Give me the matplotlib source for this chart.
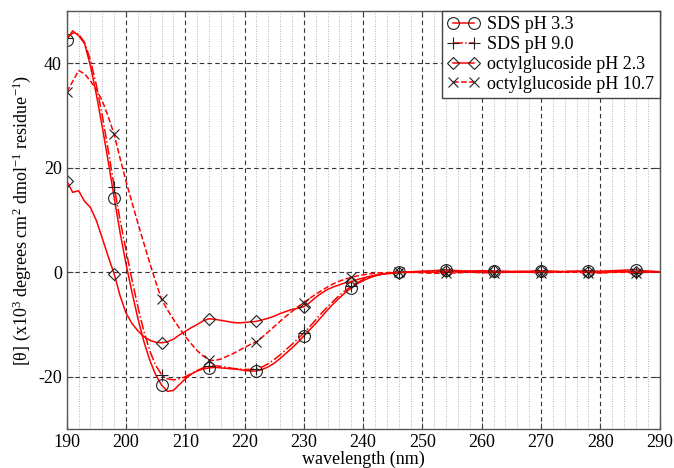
import numpy as np
import matplotlib
matplotlib.use("Agg")
import matplotlib.pyplot as plt
from matplotlib.ticker import MultipleLocator

plt.rcParams['font.family'] = ['Liberation Serif', 'DejaVu Serif']
plt.rcParams['mathtext.fontset'] = 'custom'
plt.rcParams['mathtext.rm'] = 'Liberation Serif'
plt.rcParams['mathtext.it'] = 'Liberation Serif:italic'
plt.rcParams['axes.unicode_minus'] = False

# wavelength (nm): 1 nm steps to 246, then 2 nm steps
wavelength = list(range(190, 247)) + list(range(248, 291, 2))

sds_ph33 = [44.5, 46.2, 45.3, 43.8, 39.5, 34.0, 27.8, 21.2, 14.3, 7.6,
            1.6, -3.8, -8.8, -13.2, -16.8, -19.6, -21.6, -22.8, -22.6, -21.5,
            -20.4, -19.5, -18.9, -18.5, -18.3, -18.2, -18.3, -18.4, -18.5, -18.6,
            -18.8, -18.9, -18.9, -18.6, -18.1, -17.4, -16.5, -15.5, -14.5, -13.4,
            -12.2, -11.0, -9.8, -8.5, -7.2, -6.0, -4.9, -3.9, -3.0, -2.2,
            -1.6, -1.1, -0.7, -0.4, -0.2, -0.1, 0.0,
            0.1, 0.2, 0.3, 0.5, 0.3, 0.2, 0.3, 0.2, 0.1, 0.2, 0.2,
            0.3, 0.2, 0.1, 0.2, 0.3, 0.2, 0.3, 0.4, 0.5, 0.2, 0.1]

sds_ph90 = [44.8, 45.8, 45.6, 44.0, 40.6, 35.8, 30.0, 23.4, 16.4, 10.0,
            4.2, -1.4, -6.6, -11.2, -15.0, -17.8, -19.6, -20.4, -20.6, -20.4,
            -20.0, -19.4, -18.8, -18.3, -18.0, -17.9, -18.0, -18.2, -18.4, -18.5,
            -18.6, -18.6, -18.5, -18.1, -17.5, -16.7, -15.8, -14.8, -13.8, -12.7,
            -11.6, -10.4, -9.1, -7.8, -6.6, -5.5, -4.4, -3.5, -2.7, -2.0,
            -1.4, -1.0, -0.6, -0.4, -0.2, -0.1, 0.0,
            0.0, 0.1, 0.2, 0.1, 0.2, 0.1, 0.0, 0.1, 0.2, 0.1, 0.0,
            0.1, 0.1, 0.2, 0.1, 0.0, -0.1, 0.0, 0.1, -0.1, 0.0, 0.1]

og_ph23 = [17.5, 15.3, 15.6, 13.6, 12.4, 9.9, 6.5, 3.0, -0.3, -4.5,
           -7.8, -9.8, -11.2, -12.3, -13.0, -13.4, -13.5, -13.3, -12.8, -12.0,
           -11.3, -10.6, -10.0, -9.3, -8.9, -9.0, -9.2, -9.4, -9.6, -9.7,
           -9.6, -9.5, -9.4, -9.1, -8.8, -8.4, -7.9, -7.5, -7.1, -6.9,
           -6.6, -5.8, -4.8, -4.0, -3.3, -2.8, -2.4, -2.0, -1.8, -1.4,
           -1.1, -0.8, -0.6, -0.4, -0.3, -0.2, -0.1,
           0.0, 0.1, 0.0, 0.2, 0.1, 0.2, 0.1, 0.2, 0.1, 0.0, 0.1,
           0.2, 0.1, 0.1, 0.2, 0.1, 0.0, 0.1, 0.2, 0.1, 0.2, 0.1]

og_ph107 = [34.5, 36.5, 38.6, 38.0, 36.6, 35.0, 32.8, 29.8, 26.4, 21.8,
            17.4, 13.4, 9.4, 5.6, 1.8, -1.8, -5.2, -7.2, -9.0, -10.7,
            -12.3, -13.7, -15.0, -16.0, -16.8, -16.9, -16.6, -16.1, -15.6, -15.0,
            -14.4, -13.8, -13.3, -12.4, -11.4, -10.4, -9.4, -8.4, -7.5, -6.6,
            -5.8, -5.0, -4.2, -3.5, -2.8, -2.2, -1.7, -1.3, -1.0, -0.7,
            -0.5, -0.3, -0.2, -0.1, -0.1, 0.0, 0.0,
            0.0, -0.1, -0.2, -0.2, -0.1, 0.0, -0.1, -0.1, 0.0, 0.1, 0.0,
            -0.1, 0.0, 0.1, 0.0, -0.1, -0.1, 0.0, 0.0, -0.1, 0.0, 0.1]

marker_wavelengths = list(range(190, 291, 8))

labels = ['SDS pH 3.3', 'SDS pH 9.0', 'octylglucoside pH 2.3', 'octylglucoside pH 10.7']
series = [sds_ph33, sds_ph90, og_ph23, og_ph107]
styles = ['-', '-.', '-', '--']
markers = ['o', '+', 'D', 'x']
msizes = [8.5, 9, 6.5, 7.5]

fig = plt.figure(figsize=(6.74, 4.68), dpi=100)
ax = fig.add_axes([0.099, 0.0833, 0.8795, 0.8932])

wl = np.array(wavelength)
mask = list(np.isin(wl, marker_wavelengths))
for y, lab, ls, mk, ms in zip(series, labels, styles, markers, msizes):
    ax.plot(wl, y, color='#ff0000', linestyle=ls, linewidth=1.1,
            marker=mk, markersize=ms, markevery=mask,
            markerfacecolor='none', markeredgecolor='#202020',
            markeredgewidth=0.8, label=lab)

ax.set_xlim(190, 290)
ax.set_ylim(-30, 50)
ax.xaxis.set_major_locator(MultipleLocator(10))
ax.xaxis.set_minor_locator(MultipleLocator(2))
ax.yaxis.set_major_locator(MultipleLocator(20))

ax.grid(which='major', axis='both', linestyle=(0, (4, 3)), color='#333333', linewidth=0.8)
ax.grid(which='minor', axis='x', linestyle=(0, (1, 2)), color='#999999', linewidth=0.6)
ax.set_axisbelow(True)

ax.tick_params(which='both', direction='in', top=True, right=True, labelsize=13,
               color='#444444')
ax.tick_params(which='major', length=4)
ax.tick_params(which='minor', length=0)
for s in ax.spines.values():
    s.set_color('#555555')
    s.set_linewidth(1.0)

ax.set_xlabel('wavelength (nm)', fontsize=13, labelpad=0)
ax.set_ylabel(r'[θ] (x10$^{3}$ degrees cm$^{2}$ dmol$^{-1}$ residue$^{-1}$)',
              fontsize=13, labelpad=4)

leg = ax.legend(loc='upper right', borderaxespad=0, fancybox=False, framealpha=1,
                edgecolor='#444444', fontsize=13, numpoints=2, handlelength=1.8,
                handletextpad=0.4, labelspacing=0.15, borderpad=0.3)
leg.get_frame().set_linewidth(1.0)

fig.savefig('out.png', dpi=100)
